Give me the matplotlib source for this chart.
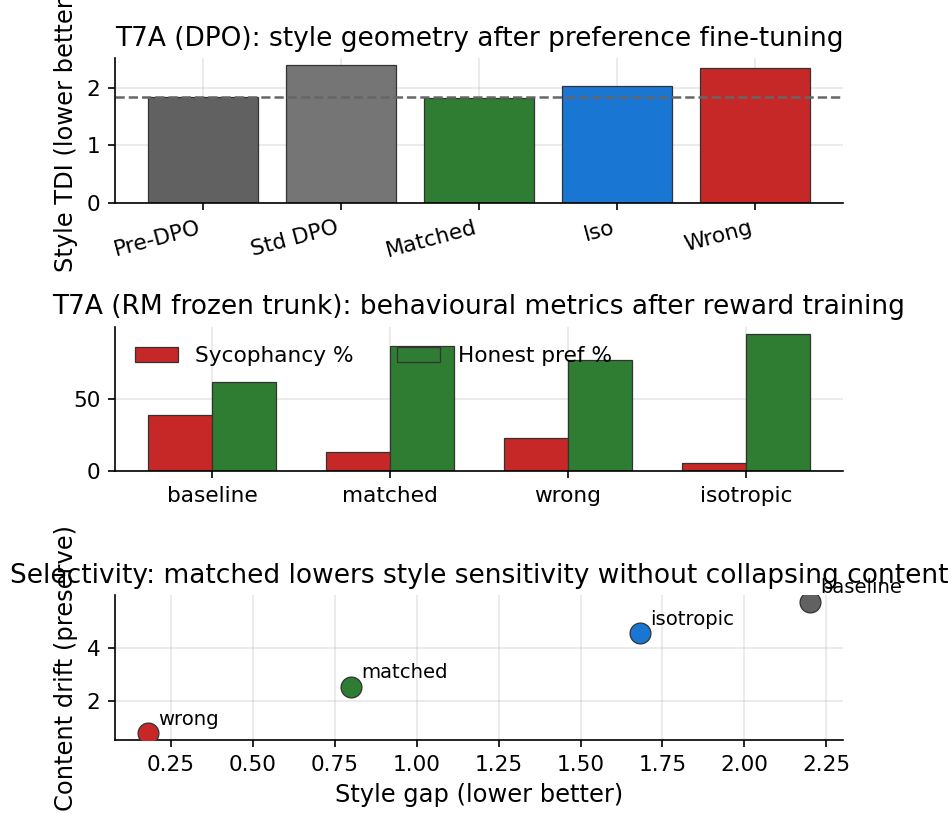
import matplotlib
matplotlib.use("Agg")
import matplotlib.pyplot as plt
import numpy as np

# Panel 1: style TDI after DPO
dpo_labels = ["Pre-DPO", "Std DPO", "Matched", "Iso", "Wrong"]
dpo_tdi = [1.84, 2.40, 1.82, 2.03, 2.34]
dpo_colors = ["#616161", "#757575", "#2e7d32", "#1976d2", "#c62828"]

# Panel 2: RM behavioural metrics
rm_conditions = ["baseline", "matched", "wrong", "isotropic"]
sycophancy = [38.9, 13.2, 22.9, 5.6]
honest_pref = [61.8, 86.8, 77.1, 95.1]

# Panel 3: selectivity scatter
sel_names = ["baseline", "isotropic", "matched", "wrong"]
style_gap = [2.20, 1.68, 0.80, 0.18]
content_drift = [5.72, 4.53, 2.53, 0.77]
sel_colors = ["#616161", "#1976d2", "#2e7d32", "#c62828"]

plt.rcParams["font.size"] = 10.4

DPI = 150
fig, axes = plt.subplots(3, 1, figsize=(952 / DPI, 814 / DPI), dpi=DPI)
fig.subplots_adjust(left=0.1208, right=0.8855, top=0.9287, bottom=0.0909, hspace=0.855)

for ax in axes:
    ax.spines["top"].set_visible(False)
    ax.spines["right"].set_visible(False)
    ax.grid(True, alpha=0.3)
    ax.set_axisbelow(True)

# --- top: DPO bars
ax = axes[0]
x = np.arange(len(dpo_labels))
ax.bar(x, dpo_tdi, color=dpo_colors, edgecolor="#333333", linewidth=0.6)
ax.axhline(dpo_tdi[0], color="#666666", linestyle="--", linewidth=1.2)
ax.set_xticks(x)
ax.set_xticklabels(dpo_labels, rotation=15, ha="right")
ax.set_ylabel("Style TDI (lower better)", fontsize=11.6)
ax.set_title("T7A (DPO): style geometry after preference fine-tuning", fontsize=12.7)

# --- middle: RM grouped bars
ax = axes[1]
x = np.arange(len(rm_conditions))
w = 0.36
ax.bar(x - w / 2, sycophancy, w, color="#c62828", edgecolor="#333333", linewidth=0.6, label="Sycophancy %")
ax.bar(x + w / 2, honest_pref, w, color="#2e7d32", edgecolor="#333333", linewidth=0.6, label="Honest pref %")
ax.set_xticks(x)
ax.set_xticklabels(rm_conditions)
ax.legend(loc="upper left", ncol=2, frameon=False)
ax.set_title("T7A (RM frozen trunk): behavioural metrics after reward training", fontsize=12.7)

# --- bottom: selectivity scatter
ax = axes[2]
for name, gx, cy, c in zip(sel_names, style_gap, content_drift, sel_colors):
    ax.scatter(gx, cy, s=100, color=c, edgecolor="#333333", linewidth=0.6, zorder=3)
    ax.annotate(name, (gx, cy), xytext=(5, 4), textcoords="offset points", fontsize=9.4)
ax.set_xlabel("Style gap (lower better)", fontsize=11.6)
ax.set_ylabel("Content drift (preserve)", fontsize=11.6)
ax.set_title("Selectivity: matched lowers style sensitivity without collapsing content", fontsize=12.7)

fig.savefig("out.png", dpi=DPI)
